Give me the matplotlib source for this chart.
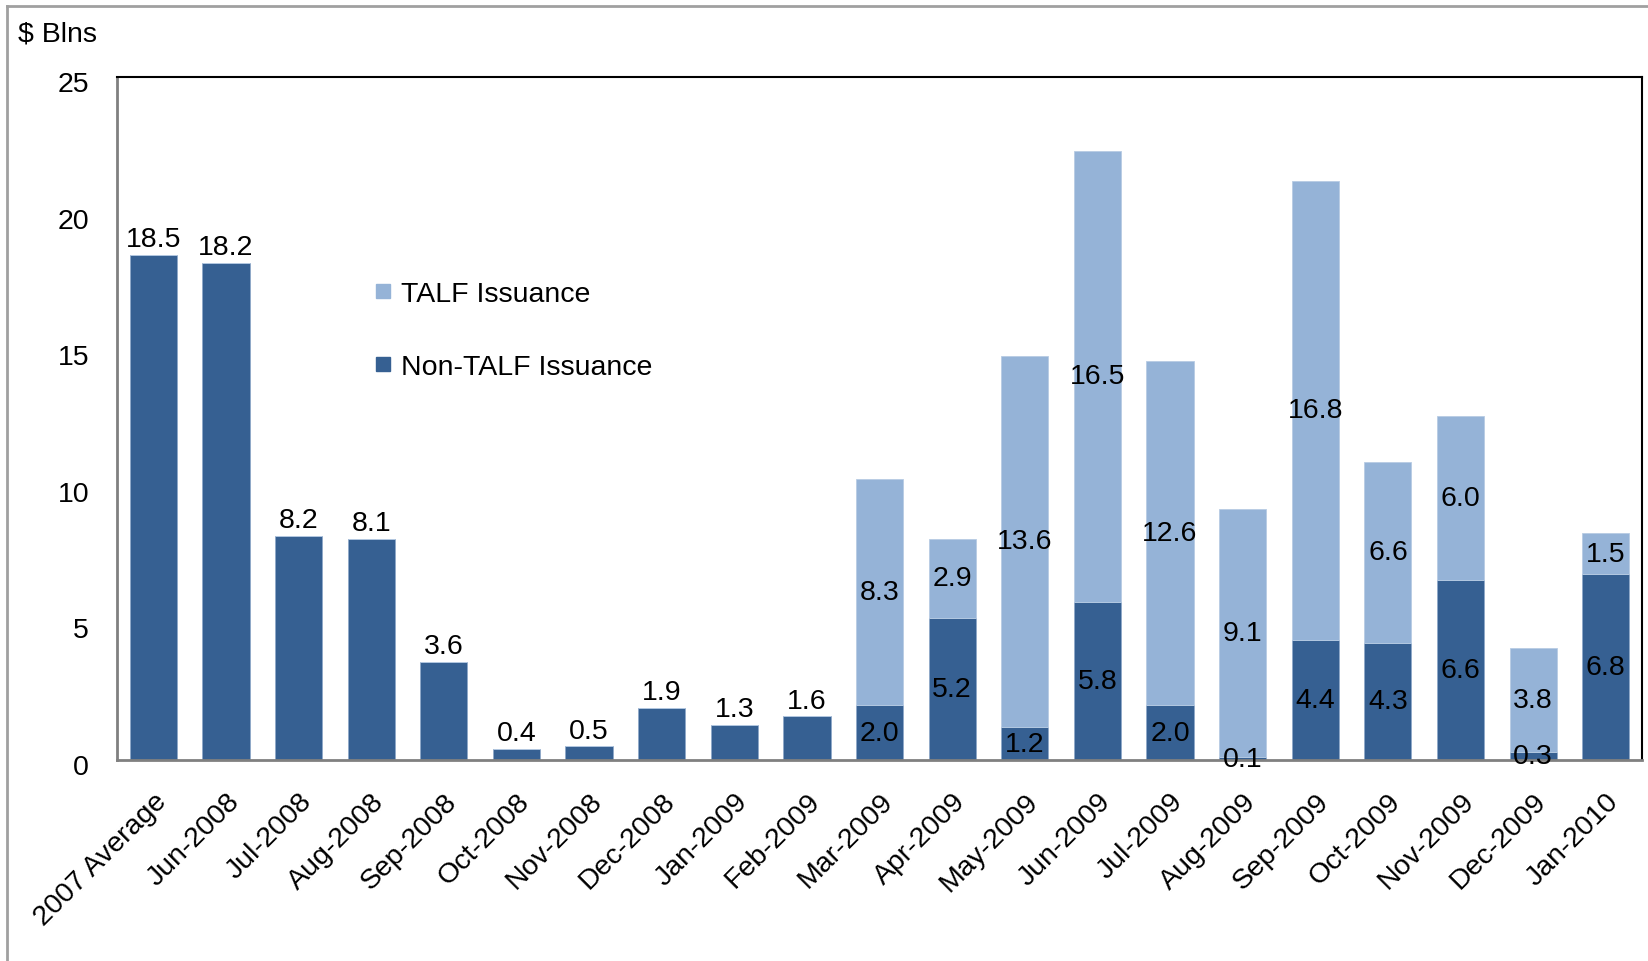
import matplotlib
matplotlib.use('Agg')
import matplotlib.pyplot as plt
import matplotlib.transforms as mtransforms
from matplotlib.lines import Line2D
import numpy as np

plt.rcParams['font.family'] = ['Liberation Sans', 'DejaVu Sans']

months = ['2007 Average', 'Jun-2008', 'Jul-2008', 'Aug-2008', 'Sep-2008', 'Oct-2008',
          'Nov-2008', 'Dec-2008', 'Jan-2009', 'Feb-2009', 'Mar-2009', 'Apr-2009',
          'May-2009', 'Jun-2009', 'Jul-2009', 'Aug-2009', 'Sep-2009', 'Oct-2009',
          'Nov-2009', 'Dec-2009', 'Jan-2010']
non_talf = [18.5, 18.2, 8.2, 8.1, 3.6, 0.4, 0.5, 1.9, 1.3, 1.6, 2.0, 5.2,
            1.2, 5.8, 2.0, 0.1, 4.4, 4.3, 6.6, 0.3, 6.8]
talf = [0, 0, 0, 0, 0, 0, 0, 0, 0, 0, 8.3, 2.9,
        13.6, 16.5, 12.6, 9.1, 16.8, 6.6, 6.0, 3.8, 1.5]

dark = '#366092'
light = '#95B3D7'
fs = 20.5

fig = plt.figure(figsize=(16.48, 9.62), dpi=100)
ax = fig.add_axes([0.0710, 0.2089, 0.9254, 0.7100])

x = np.arange(len(months))
width = 0.65
ax.bar(x, non_talf, width, color=dark, edgecolor='#8fa8c8', linewidth=0.6)
ax.bar(x, talf, width, bottom=non_talf, color=light, edgecolor='#b8cce4', linewidth=0.6)

# data labels
for i in range(len(months)):
    if talf[i] == 0:
        ax.annotate(f'{non_talf[i]:.1f}', (x[i], non_talf[i]), xytext=(0, 2),
                    textcoords='offset points', ha='center', va='bottom', fontsize=fs)
    else:
        ax.text(x[i], non_talf[i] / 2, f'{non_talf[i]:.1f}', ha='center', va='center', fontsize=fs)
        ax.text(x[i], non_talf[i] + talf[i] / 2, f'{talf[i]:.1f}', ha='center', va='center', fontsize=fs)

ax.set_xlim(-0.5, len(months) - 0.5)
ax.set_ylim(0, 25)
ax.set_yticks([0, 5, 10, 15, 20, 25])
ax.set_xticks(x)
ax.set_xticklabels(months, rotation=45, ha='right', rotation_mode='anchor', fontsize=fs)
ax.tick_params(axis='both', length=0, labelsize=fs)
ax.tick_params(axis='y', pad=20)
ax.tick_params(axis='x', pad=20)
shift = mtransforms.ScaledTranslation(0, -4 / 100, fig.dpi_scale_trans)
for lab in ax.get_yticklabels():
    lab.set_transform(lab.get_transform() + shift)

for side in ['top', 'right']:
    ax.spines[side].set_color('black')
    ax.spines[side].set_linewidth(1.5)
for side in ['left', 'bottom']:
    ax.spines[side].set_color('#808080')
    ax.spines[side].set_linewidth(2)

handles = [Line2D([], [], marker='s', linestyle='none', markersize=9.5, color=light),
           Line2D([], [], marker='s', linestyle='none', markersize=9.5, color=dark)]
ax.legend(handles, ['TALF Issuance', 'Non-TALF Issuance'], loc='upper left',
          bbox_to_anchor=(374 / 1648, 1 - 282 / 962), bbox_transform=fig.transFigure,
          frameon=False, fontsize=fs, handlelength=0.6, handletextpad=0.35,
          labelspacing=1.65, borderaxespad=0, borderpad=0)

fig.text(18 / 1648, 1 - 35 / 962, '$ Blns', fontsize=fs, va='center', ha='left')

# outer frame
fig.add_artist(Line2D([7 / 1648, 1], [1 - 7 / 962, 1 - 7 / 962], color='#a0a0a0', linewidth=2,
                      transform=fig.transFigure))
fig.add_artist(Line2D([7 / 1648, 7 / 1648], [0, 1 - 7 / 962], color='#a0a0a0', linewidth=2,
                      transform=fig.transFigure))

fig.savefig('out.png', dpi=100)
